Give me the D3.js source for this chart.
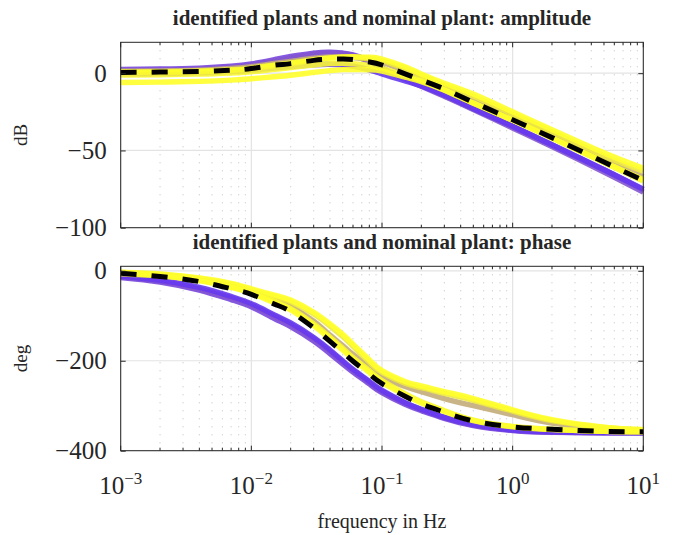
<!DOCTYPE html>
<html>
<head>
<meta charset="utf-8">
<script src="https://cdn.jsdelivr.net/npm/d3@7"></script>
<style>
body { margin: 0; background: #fff; }
text { font-family: "Liberation Serif", "Times New Roman", serif; fill: #262626; }
</style>
</head>
<body>
<script>
// frequency grid (Hz)
var freq = [0.001, 0.002, 0.004, 0.007, 0.01, 0.015, 0.02, 0.03, 0.04, 0.05, 0.06, 0.08, 0.1, 0.15, 0.2, 0.3, 0.5, 1, 2, 5, 10];

// amplitude (dB)
var ampNominal = [0.5, 0.7, 1.1, 1.9, 3.0, 5.2, 6.2, 8.3, 9.0, 9.2, 8.8, 7.3, 5.3, -0.4, -4.4, -10.2, -18.8, -30.1, -41.7, -57.5, -69.5];
var ampPurple1 = [2.5, 2.7, 3.3, 4.5, 6.0, 8.8, 10.8, 13.0, 13.6, 13.0, 11.8, 8.0, 3.5, -3.5, -8.0, -14.5, -23.0, -34.5, -46.5, -62.5, -75.5];
var ampPurple2 = [1.6, 1.8, 2.4, 3.6, 5.0, 7.8, 9.8, 12.2, 12.9, 12.4, 11.2, 7.5, 3.0, -4.0, -8.5, -15.0, -23.5, -35.5, -47.5, -64.0, -77.0];
var ampBlue    = [-0.5, -0.3, 0.2, 1.0, 1.9, 3.3, 4.3, 5.5, 5.8, 5.4, 4.5, 2.2, -0.5, -5.0, -8.3, -14.2, -22.8, -34.3, -46.3, -62.5, -75.0];
var ampTan     = [1.3, 1.5, 2.0, 3.0, 4.2, 6.3, 7.6, 9.7, 10.5, 10.6, 10.2, 9.0, 7.2, 1.5, -3.0, -9.0, -17.0, -28.5, -40.0, -55.5, -67.0];
var ampYellow1 = [0.8, 1.0, 1.4, 2.2, 3.3, 5.3, 6.6, 8.8, 9.9, 10.3, 10.3, 9.6, 8.2, 3.0, -1.5, -7.8, -15.0, -26.5, -38.0, -53.5, -63.5];
var ampYellow2 = [0.5, 0.7, 1.1, 1.9, 3.0, 5.0, 6.3, 8.5, 9.8, 10.4, 10.6, 10.3, 9.2, 4.2, -0.5, -6.5, -13.5, -25.0, -36.5, -51.5, -61.5];
var ampYellow3 = [-1.2, -1.0, -0.6, 0.1, 0.9, 2.5, 3.6, 5.3, 6.2, 6.4, 6.1, 5.0, 3.2, -1.3, -4.8, -10.8, -19.3, -30.3, -41.9, -57.8, -69.8];
var ampYellow4 = [-6.0, -5.8, -5.3, -4.5, -3.6, -2.3, -1.3, 0.5, 1.7, 2.3, 2.4, 2.2, 1.3, -2.5, -5.5, -11.0, -19.5, -30.5, -42.0, -57.5, -69.0];

// phase (deg)
var phNominal = [-5.5, -12.5, -24, -40, -52.5, -74, -90.5, -127, -157, -181, -201, -230, -251, -279, -296, -314.5, -334, -347, -352.5, -357, -358];
var phPurple1 = [-15, -25, -43, -64, -80, -106, -124, -156, -184, -207, -225, -251.5, -271, -297, -311, -328, -344, -355, -359, -360, -360];
var phPurple2 = [-13, -23, -40, -60, -76, -101, -119, -151, -179, -203, -221, -248, -268, -294, -309, -326, -343, -354, -358.5, -360, -360];
var phBlue    = [-12, -21, -37, -57, -73, -98, -116, -148, -176, -200, -219, -246, -266, -293, -308, -326, -342, -354, -358, -359.5, -360];
var phTan     = [-7, -11, -20, -33, -45, -63, -79, -112, -143, -166, -186, -215, -237, -257, -269, -284, -300, -320, -338.5, -351, -356];
var phYellow1 = [-3.5, -8, -17.5, -30, -42.5, -57, -69, -96, -123, -146, -168, -203, -226, -250, -260, -272.5, -288, -312, -333, -348.5, -354];
var phYellow2 = [-3, -7, -16, -28, -40, -54, -65, -92, -118, -141, -163, -198, -222, -246, -256, -268.5, -284, -309, -331, -347.5, -353];
var phYellow3 = [-4.5, -10.5, -21, -36, -48, -68, -84, -118, -148, -172, -193, -222, -244, -273, -291, -311, -332, -346, -352.5, -357, -358];
var phYellow4 = [-5, -11, -22, -37, -50, -71, -87, -122, -152, -176, -197, -226, -248, -276, -294, -313, -333, -347, -353, -357, -358];

var ampTicks = [-100, -50, 0];
var phTicks = [-400, -200, 0];
var decades = [-3, -2, -1, 0, 1];

// plants in drawing order, with their colours
var ampPlants = [ampPurple1, ampPurple2, ampBlue, ampTan, ampYellow1, ampYellow2, ampYellow3, ampYellow4];
var phPlants = [phPurple1, phPurple2, phBlue, phTan, phYellow1, phYellow2, phYellow3, phYellow4];
var mix = d3.interpolateRgb("#7846dc", "#ffff2a");
var plantColors = [mix(0), mix(0.08), "#6638ee", mix(0.55), mix(0.88), mix(1), mix(0.95), mix(1)];

var width = 673, height = 535;
var left = 120.7, right = 643.3;

var svg = d3.select("body").append("svg")
    .attr("width", width)
    .attr("height", height);

var x = d3.scaleLog().domain([1e-3, 10]).range([left, right]);
var yAmp = d3.scaleLinear().domain([-100, 20]).range([227.7, 42.3]);
var yPh = d3.scaleLinear().domain([-400, 10]).range([450.7, 266.3]);

var allTicks = x.ticks();
var minorTicks = allTicks.filter(function(d){ return Math.abs(Math.log10(d) - Math.round(Math.log10(d))) > 1e-6; });
var majorTicks = decades.map(function(p){ return Math.pow(10, p); });

function fmt(d){ return d < 0 ? "\u2212" + (-d) : "" + d; }

function panel(y, yTicks, plants, nominal, title, ylab){
  var top = y.range()[1], bottom = y.range()[0];
  var g = svg.append("g");

  //grid
  g.selectAll(".minor").data(minorTicks).enter().append("line")
    .attr("x1", function(d){ return x(d); }).attr("x2", function(d){ return x(d); })
    .attr("y1", top).attr("y2", bottom)
    .attr("stroke", "#bdbdbd").attr("stroke-width", 1)
    .attr("stroke-dasharray", "1,7");
  g.selectAll(".majx").data(majorTicks).enter().append("line")
    .attr("x1", function(d){ return x(d); }).attr("x2", function(d){ return x(d); })
    .attr("y1", top).attr("y2", bottom)
    .attr("stroke", "#e3e3e3").attr("stroke-width", 1.2);
  g.selectAll(".majy").data(yTicks).enter().append("line")
    .attr("x1", left).attr("x2", right)
    .attr("y1", function(d){ return y(d); }).attr("y2", function(d){ return y(d); })
    .attr("stroke", "#e3e3e3").attr("stroke-width", 1.2);

  //plants
  var line = d3.line()
    .x(function(d, i){ return x(freq[i]); })
    .y(function(d){ return y(d); })
    .curve(d3.curveNatural);

  g.selectAll(".plant").data(plants).enter().append("path")
    .attr("d", line)
    .attr("fill", "none")
    .attr("stroke", function(d, i){ return plantColors[i]; })
    .attr("stroke-width", 5.4)
    .attr("stroke-opacity", 0.9);

  g.append("path").datum(nominal)
    .attr("d", line)
    .attr("fill", "none")
    .attr("stroke", "#000")
    .attr("stroke-width", 5)
    .attr("stroke-dasharray", "16,15");

  //ticks inside the box
  var ax = g.append("g");
  ax.selectAll(".tb").data(allTicks).enter().append("line")
    .attr("x1", function(d){ return x(d); }).attr("x2", function(d){ return x(d); })
    .attr("y1", bottom).attr("y2", function(d){ return bottom - (majorTicks.indexOf(d) >= 0 ? 5 : 3); })
    .attr("stroke", "#262626");
  ax.selectAll(".tt").data(allTicks).enter().append("line")
    .attr("x1", function(d){ return x(d); }).attr("x2", function(d){ return x(d); })
    .attr("y1", top).attr("y2", function(d){ return top + (majorTicks.indexOf(d) >= 0 ? 5 : 3); })
    .attr("stroke", "#262626");

  var yAxisL = d3.axisLeft(y).tickValues(yTicks).tickSizeInner(-5).tickSizeOuter(0).tickPadding(14).tickFormat(fmt);
  var yAxisR = d3.axisRight(y).tickValues(yTicks).tickSizeInner(-5).tickSizeOuter(0).tickFormat("");
  var gl = g.append("g").attr("transform", "translate(" + left + ",0)").call(yAxisL);
  var gr = g.append("g").attr("transform", "translate(" + right + ",0)").call(yAxisR);
  gl.select(".domain").remove();
  gr.select(".domain").remove();
  gl.selectAll("line").attr("stroke", "#262626");
  gr.selectAll("line").attr("stroke", "#262626");
  gl.selectAll("text")
    .style("font-family", "'Liberation Serif', serif")
    .style("font-size", "25px")
    .attr("fill", "#262626");

  //box
  g.append("rect")
    .attr("x", left).attr("y", top)
    .attr("width", right - left).attr("height", bottom - top)
    .attr("fill", "none").attr("stroke", "#262626").attr("stroke-width", 1);

  //title
  g.append("text")
    .attr("x", (left + right) / 2).attr("y", top - 17)
    .attr("text-anchor", "middle")
    .style("font-weight", "bold").style("font-size", "21px")
    .text(title);

  g.append("text")
    .attr("transform", "translate(27," + (top + bottom) / 2 + ") rotate(-90)")
    .attr("text-anchor", "middle")
    .style("font-size", "19px")
    .text(ylab);
}

panel(yAmp, ampTicks, ampPlants, ampNominal, "identified plants and nominal plant: amplitude", "dB");
panel(yPh, phTicks, phPlants, phNominal, "identified plants and nominal plant: phase", "deg");

//x labels
var xl = svg.append("g").selectAll("text").data(majorTicks).enter().append("text")
    .attr("x", function(d){ return x(d); })
    .attr("y", 494)
    .attr("text-anchor", "middle")
    .style("font-size", "25px");
xl.append("tspan").text("10");
xl.append("tspan")
    .attr("dy", -10)
    .style("font-size", "17px")
    .text(function(d, i){ return fmt(decades[i]); });

svg.append("text")
    .attr("x", (left + right) / 2).attr("y", 528)
    .attr("text-anchor", "middle")
    .style("font-size", "20px")
    .text("frequency in Hz");
</script>
</body>
</html>
